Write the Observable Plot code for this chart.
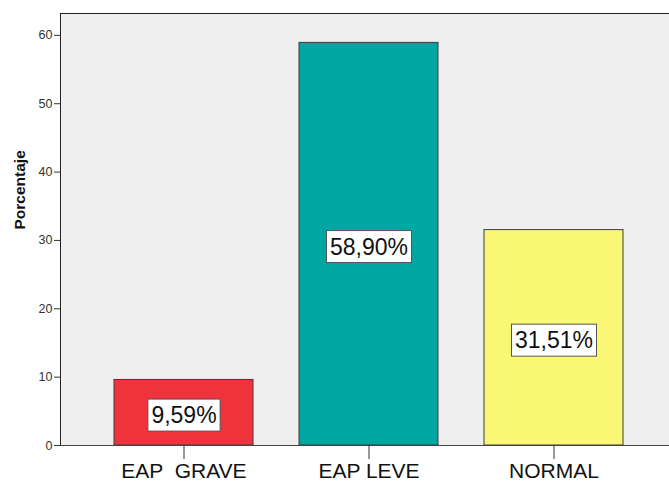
<!DOCTYPE html>
<html>
<head>
<meta charset="utf-8">
<script src="https://cdn.jsdelivr.net/npm/d3@7"></script>
<script src="https://cdn.jsdelivr.net/npm/@observablehq/plot@0.6"></script>
<style>
  html, body { margin: 0; padding: 0; background: #fff; overflow: hidden; }
  svg { font-family: "Liberation Sans", Arial, sans-serif; display: block; }
</style>
</head>
<body>
<script>
// Distribución por categoría (porcentaje)
const categorias = ["EAP  GRAVE", "EAP LEVE", "NORMAL"];
const porcentajes = [9.59, 58.90, 31.51];
const colores = ["#ef323b", "#00a6a2", "#faf775"];
const ticksY = [0, 10, 20, 30, 40, 50, 60];

const datos = categorias.map((c, i) => ({categoria: c, valor: porcentajes[i], color: colores[i]}));
const fmt = v => v.toFixed(2).replace(".", ",") + "%";

const chart = Plot.plot({
  width: 669,
  height: 482,
  marginLeft: 60,
  marginTop: 13,
  marginBottom: 37,
  marginRight: 0,
  style: {fontFamily: '"Liberation Sans", Arial, sans-serif', background: "#fff"},
  x: {domain: categorias, range: [60, 678], paddingInner: 0.247, paddingOuter: 0.285, label: null},
  y: {domain: [0, 63.2], label: null},
  color: {type: "identity"},
  marks: [
    Plot.frame({fill: "#efefef", stroke: null}),
    Plot.frame({anchor: "top", stroke: "#222"}),
    Plot.frame({anchor: "left", stroke: "#222"}),
    Plot.barY(datos, {x: "categoria", y: "valor", fill: "color", stroke: "#3c3c3c", strokeWidth: 1}),
    Plot.ruleY([0], {stroke: "#444"}),
    Plot.axisY({ticks: ticksY, tickSize: 6, tickPadding: 2, fontSize: 12.5, color: "#333", label: null}),
    Plot.axisX({tickSize: 14, tickPadding: 4, fontSize: 21, color: "#111", stroke: "#333", label: null}),
    Plot.text(["Porcentaje"], {frameAnchor: "left", dx: -40, rotate: -90, fontSize: 15.5, fontWeight: "bold", fill: "#111"}),
    Plot.text(datos, {x: "categoria", y: d => d.valor / 2, dy: 3, text: d => fmt(d.valor),
      fontSize: 23, fill: "#111", className: "etiquetas"})
  ]
});

document.body.appendChild(chart);

// Recuadro blanco detrás de cada etiqueta de valor
d3.select(chart).selectAll("g.etiquetas text").each(function () {
  const b = this.getBBox();
  const padX = 3.5, padY = 5;
  d3.select(this.parentNode).insert("rect", () => this)
    .attr("transform", this.getAttribute("transform"))
    .attr("x", b.x - padX)
    .attr("y", b.y - padY + 2)
    .attr("width", b.width + 2 * padX)
    .attr("height", b.height + 2 * padY - 4)
    .attr("fill", "#fff")
    .attr("stroke", "#555")
    .attr("stroke-width", 1);
});
</script>
</body>
</html>
